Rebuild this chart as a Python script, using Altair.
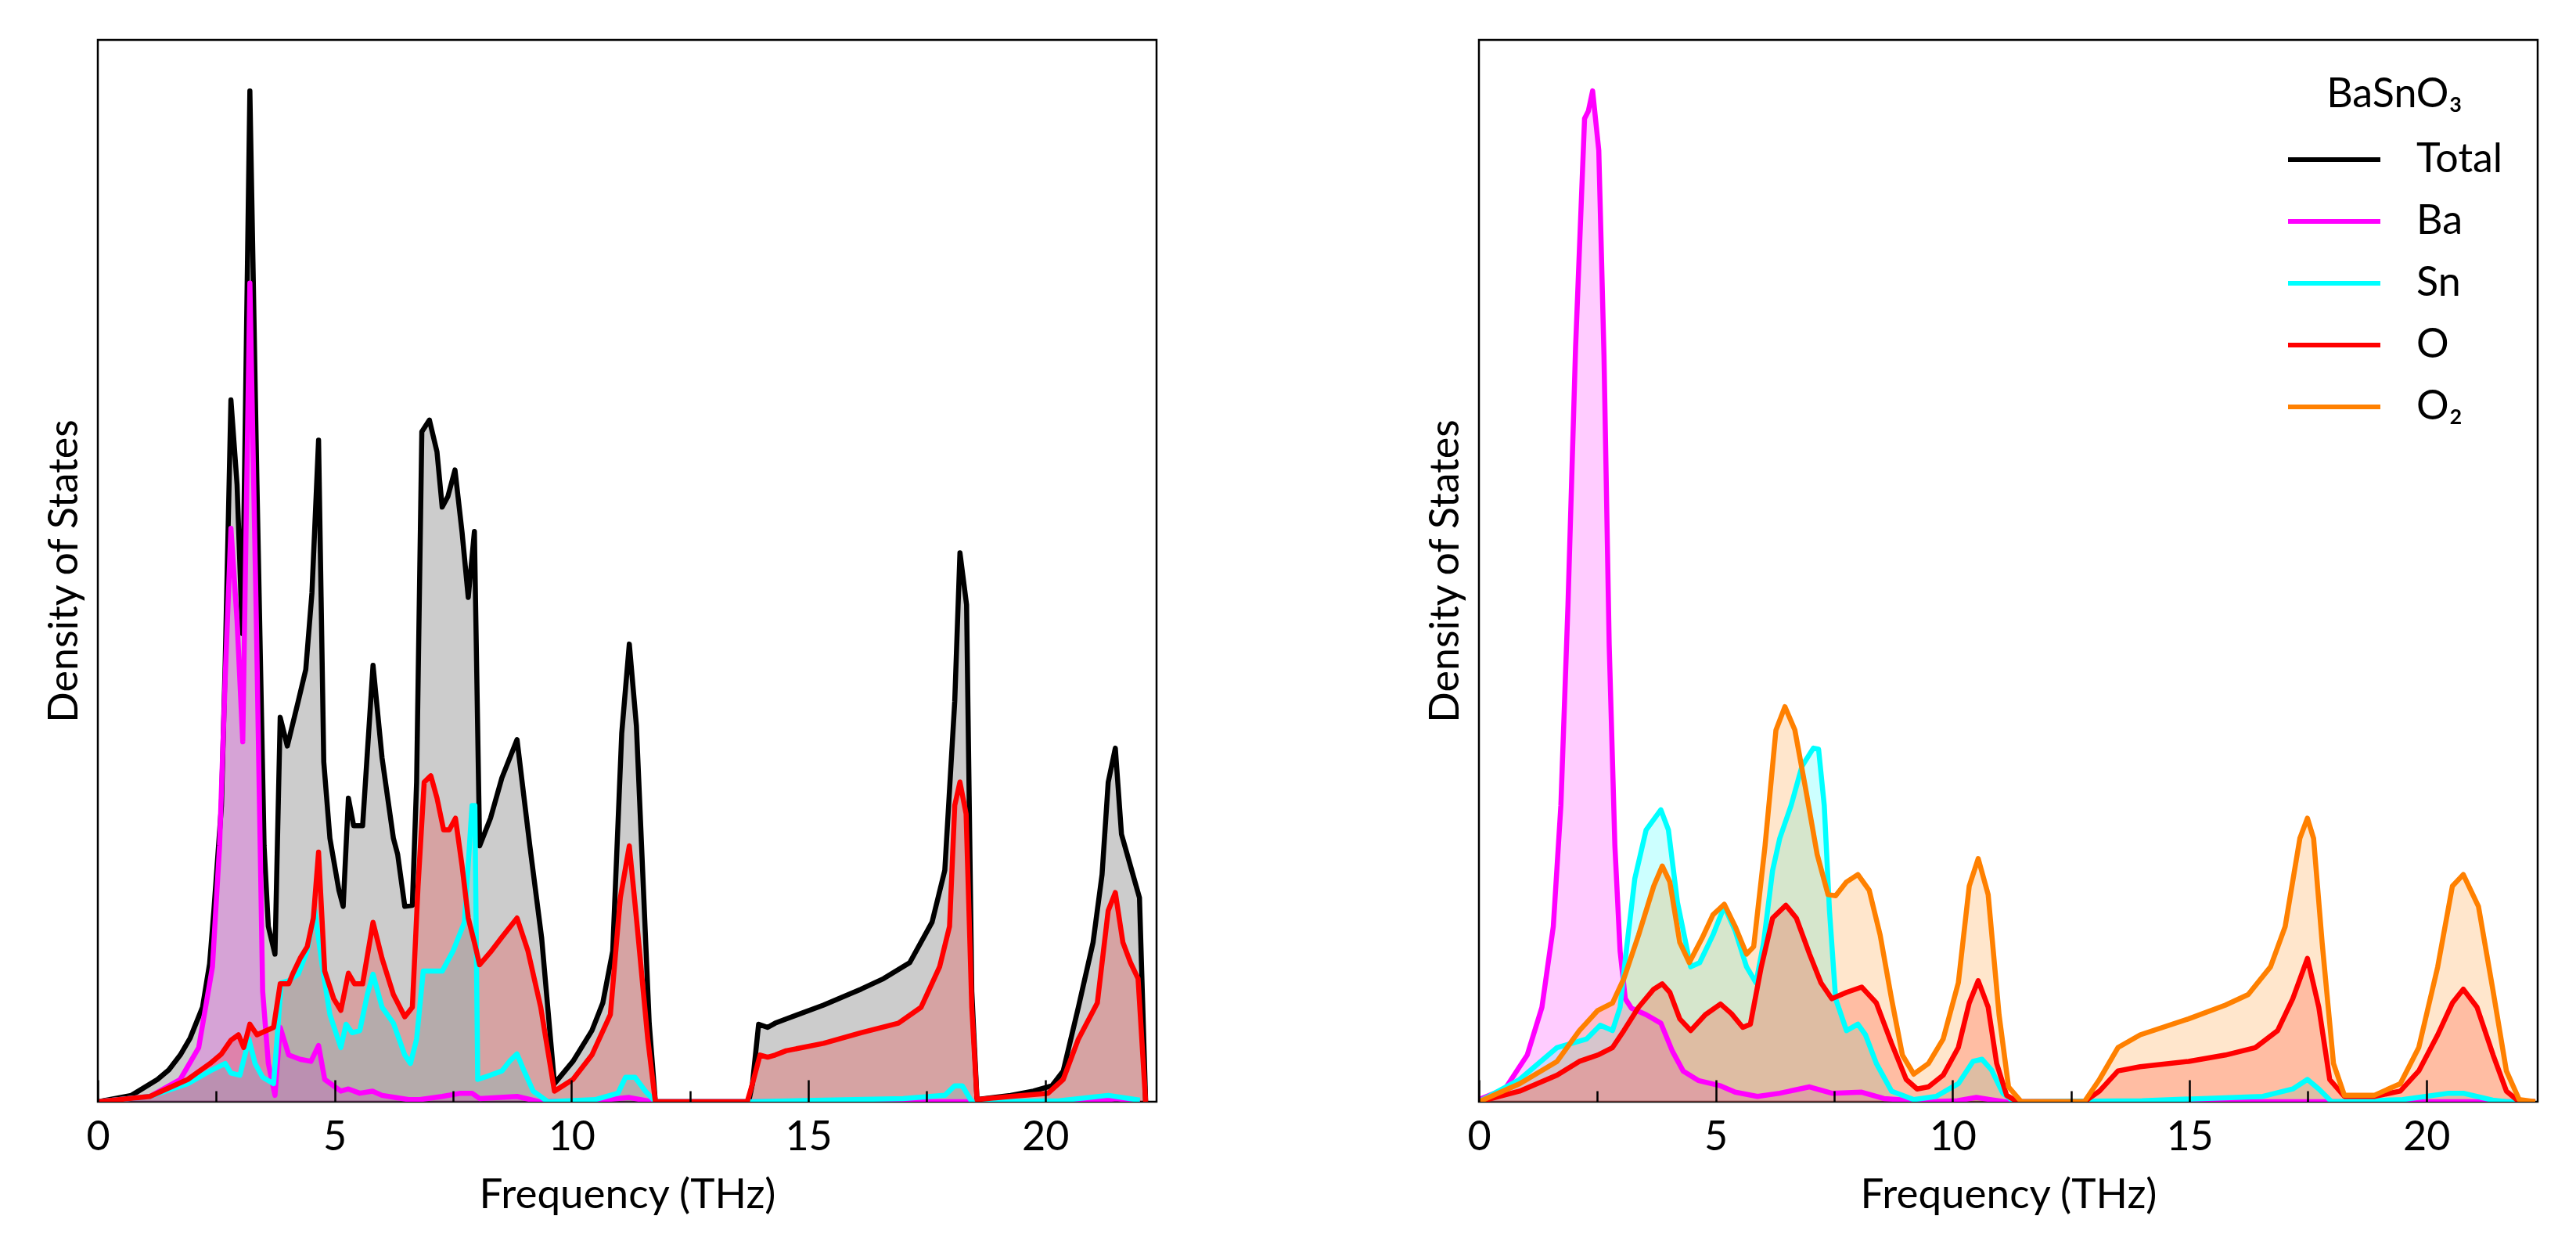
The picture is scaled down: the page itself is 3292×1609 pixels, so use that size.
import altair as alt
import pandas as pd

FONT = "Lato"
SERIES = ["Total", "Ba", "Sn", "O", "O₂"]
COLORS = ["#000000", "#ff00ff", "#00ffff", "#ff0000", "#ff8000"]
XMAX = 22.35
YMAX = 100.0
MAJOR_TICKS = [0, 5, 10, 15, 20]
MINOR_TICKS = [2.5, 7.5, 12.5, 17.5]

# ---------------- left panel ----------------
L_TOTAL_F = [0, 0.71, 1.26, 1.5, 1.74, 1.95, 2.21, 2.36, 2.45, 2.61, 2.69, 2.81, 2.94, 3.05, 3.21, 3.36, 3.51, 3.60,
             3.74, 3.85, 4.0, 4.23, 4.39, 4.52, 4.66, 4.77, 4.90, 5.09, 5.18, 5.29, 5.40, 5.59, 5.81, 6.0, 6.24,
             6.33, 6.48, 6.64, 6.73, 6.84, 7.0, 7.16, 7.27, 7.39, 7.54, 7.69, 7.82, 7.95, 8.06, 8.29, 8.53, 8.85,
             9.12, 9.37, 9.64, 10.03, 10.43, 10.66, 10.87, 11.06, 11.22, 11.37, 11.64, 11.77, 13.74, 13.82, 13.95,
             14.14, 14.30, 14.53, 15.32, 16.11, 16.59, 17.14, 17.61, 17.88, 18.09, 18.2, 18.34, 18.45, 18.56,
             19.27, 19.75, 20.14, 20.38, 20.70, 21.01, 21.2, 21.33, 21.48, 21.61, 21.80, 21.99, 22.12]
L_TOTAL_V = [0, 0.6, 2.1, 3.0, 4.4, 6.0, 8.9, 13.0, 18.0, 27.9, 41.5, 66.1, 58.1, 44.1, 95.2, 58.1, 24.1, 16.5,
             13.9, 36.2, 33.5, 37.7, 40.7, 47.9, 62.3, 32.0, 24.8, 19.9, 18.4, 28.6, 26.0, 26.0, 41.1, 32.4, 24.8,
             23.3, 18.4, 18.5, 30.1, 63.1, 64.2, 61.2, 56.0, 57.0, 59.5, 53.6, 47.5, 53.7, 24.1, 26.7, 30.5, 34.1,
             24.1, 15.4, 1.7, 3.8, 6.7, 9.3, 14.2, 34.7, 43.1, 35.4, 7.4, 0, 0, 1.7, 7.3,
             7.0, 7.4, 7.8, 9.1, 10.6, 11.6, 13.1, 16.9, 21.8, 37.7, 51.7, 46.8, 10.4, 0.2,
             0.6, 1.0, 1.5, 2.9, 8.9, 15.0, 21.4, 30.1, 33.3, 25.2, 22.2, 19.2, 0]

L_BA_F = [0, 1.1, 1.74, 2.13, 2.42, 2.57, 2.69, 2.81, 2.94, 3.06, 3.21, 3.35, 3.48, 3.60, 3.74, 3.85, 4.03,
          4.27, 4.5, 4.66, 4.79, 5.13, 5.29, 5.53, 5.80, 6.0, 6.56, 6.8, 7.27, 7.66, 7.9, 8.06, 8.85, 9.32,
          10.5, 11.22, 11.7, 21.0, 21.5, 22.0]
L_BA_V = [0, 0.5, 2.1, 5.1, 12.7, 24.1, 40.0, 54.0, 45.3, 33.9, 77.1, 44.5, 10.4, 3.6, 0.6, 7.0, 4.4,
          4.0, 3.8, 5.3, 2.1, 1.0, 1.2, 0.8, 1.0, 0.6, 0.2, 0.2, 0.5, 0.8, 0.8, 0.3, 0.5, 0,
          0.1, 0.4, 0, 0, 0.3, 0]

L_SN_F = [0, 1.1, 1.9, 2.37, 2.69, 2.81, 3.0, 3.19, 3.32, 3.48, 3.71, 3.79, 3.87, 4.03, 4.23, 4.42, 4.58,
          4.74, 4.90, 5.13, 5.24, 5.37, 5.53, 5.69, 5.81, 6.0, 6.24, 6.48, 6.6, 6.73, 6.87, 7.27, 7.50, 7.74,
          7.90, 7.96, 8.02, 8.29, 8.53, 8.69, 8.85, 9.0, 9.19, 9.5, 10.5, 10.98, 11.14, 11.34, 11.56, 11.77,
          13.8, 17.0, 17.88, 18.09, 18.25, 18.45, 20.3, 21.33, 22.0]
L_SN_V = [0, 0.5, 1.7, 2.9, 3.6, 2.7, 2.5, 5.9, 3.6, 2.3, 1.7, 6.3, 11.2, 11.4, 12.0, 14.2, 18.0,
          12.7, 8.2, 5.1, 7.3, 6.5, 6.7, 10.1, 12.0, 8.9, 7.4, 4.4, 3.6, 5.9, 12.3, 12.3, 14.2, 16.9,
          27.9, 27.9, 2.1, 2.5, 2.9, 3.8, 4.5, 2.9, 1.0, 0, 0.2, 0.8, 2.3, 2.3, 1.0, 0,
          0, 0.3, 0.6, 1.5, 1.5, 0, 0.1, 0.6, 0.15]

L_O_F = [0, 1.1, 1.9, 2.37, 2.61, 2.81, 2.97, 3.08, 3.21, 3.36, 3.71, 3.85, 4.03, 4.11, 4.27, 4.42, 4.55,
         4.66, 4.79, 4.98, 5.13, 5.29, 5.42, 5.59, 5.81, 6.0, 6.24, 6.48, 6.64, 6.76, 6.89, 7.03, 7.16, 7.30,
         7.42, 7.55, 7.69, 7.82, 7.95, 8.06, 8.29, 8.53, 8.85, 9.08, 9.35, 9.64, 10.03, 10.43, 10.82, 11.03,
         11.22, 11.37, 11.61, 11.77, 13.71, 13.82, 13.98, 14.14, 14.30, 14.53, 15.32, 16.11, 16.9, 17.38,
         17.77, 17.98, 18.09, 18.2, 18.33, 18.45, 18.56, 19.27, 20.06, 20.38, 20.70, 21.1, 21.33, 21.48,
         21.64, 21.8, 21.96, 22.12]
L_O_V = [0, 0.5, 2.1, 3.6, 4.5, 5.8, 6.3, 5.1, 7.3, 6.3, 7.0, 11.1, 11.1, 12.0, 13.5, 14.6, 17.3,
         23.5, 12.3, 9.7, 8.6, 12.1, 11.1, 11.1, 16.9, 13.5, 10.1, 8.0, 8.9, 20.3, 30.1, 30.7, 28.6, 25.6,
         25.6, 26.7, 22.2, 17.3, 15.0, 12.9, 14.1, 15.5, 17.3, 14.2, 8.9, 1.0, 2.1, 4.4, 8.2, 19.2,
         24.1, 17.3, 5.9, 0, 0, 1.7, 4.4, 4.2, 4.4, 4.8, 5.5, 6.5, 7.4, 8.9,
         12.7, 16.5, 27.9, 30.1, 27.1, 8.9, 0.2, 0.5, 0.8, 2.1, 5.9, 9.3, 18.0, 19.7,
         15.0, 13.1, 11.6, 0]

# ---------------- right panel ----------------
R_BA_F = [0, 0.55, 1.02, 1.33, 1.57, 1.73, 1.88, 2.04, 2.23, 2.31, 2.40, 2.53, 2.64, 2.75, 2.87, 2.98, 3.09,
          3.22, 3.53, 3.84, 4.08, 4.31, 4.63, 5.10, 5.41, 5.88, 6.35, 6.98, 7.45, 8.08, 8.55, 9.49, 10.1,
          10.5, 11.1, 22.3]
R_BA_V = [0.2, 1.2, 4.4, 8.9, 16.5, 27.9, 46.8, 71.0, 92.6, 93.3, 95.2, 89.6, 70.3, 43.0, 24.1, 14.2, 9.7,
          8.8, 8.2, 7.4, 4.8, 2.9, 2.0, 1.5, 0.9, 0.5, 0.8, 1.4, 0.8, 0.9, 0.3, 0, 0.1,
          0.4, 0, 0]

R_SN_F = [0, 0.86, 1.65, 2.27, 2.56, 2.82, 2.98, 3.11, 3.29, 3.53, 3.84, 4.0, 4.19, 4.47, 4.66, 4.94, 5.18,
          5.41, 5.65, 5.85, 6.01, 6.2, 6.35, 6.59, 6.82, 7.06, 7.17, 7.29, 7.4, 7.53, 7.76, 8.0, 8.16, 8.39,
          8.71, 9.18, 9.65, 10.12, 10.43, 10.62, 10.82, 11.06, 11.3, 14.0, 16.55, 17.18, 17.49, 17.73, 18.0,
          19.5, 20.47, 20.78, 21.4, 21.7, 22.3]
R_SN_V = [0, 2.1, 5.1, 5.9, 7.2, 6.7, 8.9, 14.2, 21.0, 25.6, 27.5, 25.6, 18.8, 12.7, 13.1, 15.7, 18.4,
          16.1, 12.7, 11.2, 15.0, 21.8, 24.8, 27.9, 31.6, 33.3, 33.2, 27.9, 18.0, 9.7, 6.7, 7.3, 6.3, 3.6,
          1.0, 0.2, 0.5, 1.7, 3.8, 4.0, 3.0, 0.8, 0, 0.1, 0.5, 1.2, 2.1, 1.2, 0,
          0.2, 0.8, 0.8, 0.15, 0, 0]

R_O_F = [0, 0.86, 1.65, 2.12, 2.51, 2.82, 3.06, 3.37, 3.69, 3.87, 4.03, 4.24, 4.47, 4.78, 5.10, 5.33, 5.57,
         5.73, 5.96, 6.2, 6.48, 6.7, 6.98, 7.22, 7.45, 7.76, 8.08, 8.39, 8.71, 9.02, 9.25, 9.49, 9.8, 10.12,
         10.35, 10.54, 10.75, 10.93, 11.14, 11.37, 12.78, 13.1, 13.49, 13.96, 14.98, 15.76, 16.39, 16.86,
         17.18, 17.49, 17.73, 17.96, 18.27, 18.9, 19.45, 19.84, 20.24, 20.55, 20.78, 21.07, 21.41, 21.69,
         21.96, 22.3]
R_O_V = [0, 1.0, 2.5, 3.8, 4.4, 5.1, 6.7, 8.9, 10.6, 11.1, 10.3, 7.8, 6.7, 8.2, 9.2, 8.3, 7.0,
         7.3, 12.7, 17.3, 18.5, 17.3, 13.9, 11.2, 9.7, 10.3, 10.8, 9.3, 5.5, 2.1, 1.2, 1.4, 2.5, 5.1,
         9.3, 11.4, 8.9, 3.6, 0.6, 0, 0, 1.0, 2.9, 3.3, 3.8, 4.4, 5.1, 6.7,
         9.7, 13.5, 8.9, 2.1, 0.5, 0.5, 1.0, 2.9, 6.3, 9.3, 10.6, 8.9, 4.4, 1.0,
         0, 0]

R_O2_F = [0, 0.86, 1.65, 2.12, 2.51, 2.82, 3.06, 3.37, 3.69, 3.87, 4.03, 4.24, 4.44, 4.71, 4.94, 5.18, 5.41,
          5.65, 5.8, 6.04, 6.27, 6.46, 6.67, 6.9, 7.14, 7.37, 7.53, 7.76, 8.0, 8.24, 8.47, 8.71, 8.94, 9.18,
          9.49, 9.8, 10.12, 10.35, 10.54, 10.75, 10.98, 11.18, 11.45, 12.78, 13.1, 13.49, 13.96, 14.98, 15.76,
          16.24, 16.71, 17.02, 17.33, 17.49, 17.62, 17.8, 18.04, 18.27, 18.9, 19.45, 19.84, 20.24, 20.55,
          20.78, 21.1, 21.41, 21.69, 21.96, 22.3]
R_O2_V = [0, 1.7, 3.8, 6.7, 8.6, 9.3, 11.6, 15.7, 20.3, 22.2, 20.7, 15.0, 13.1, 15.4, 17.6, 18.6, 16.5,
          13.9, 14.6, 24.1, 35.0, 37.2, 35.0, 29.4, 23.3, 19.5, 19.4, 20.7, 21.4, 19.9, 15.7, 9.7, 4.4, 2.6,
          3.6, 5.9, 11.2, 20.3, 22.9, 19.5, 8.2, 1.4, 0, 0, 2.1, 5.1, 6.3, 7.8, 9.1,
          10.1, 12.7, 16.5, 24.8, 26.7, 24.8, 15.0, 3.6, 0.6, 0.6, 1.7, 5.1, 12.7, 20.3,
          21.4, 18.4, 10.4, 2.9, 0.2, 0]

LEFT = [("Total", L_TOTAL_F, L_TOTAL_V), ("Ba", L_BA_F, L_BA_V), ("Sn", L_SN_F, L_SN_V), ("O", L_O_F, L_O_V)]
RIGHT = [("Ba", R_BA_F, R_BA_V), ("Sn", R_SN_F, R_SN_V), ("O", R_O_F, R_O_V), ("O₂", R_O2_F, R_O2_V)]

PW, PH = 1353, 1357
COLOR_OF = dict(zip(SERIES, COLORS))


def panel(series_list, show_legend):
    x_scale = alt.Scale(domain=[0, XMAX], nice=False, zero=False)
    y_scale = alt.Scale(domain=[0, YMAX], nice=False)
    color_scale = alt.Scale(domain=SERIES, range=COLORS)
    y_axis = alt.Axis(title="Density of States", labels=False, ticks=False, domain=False, grid=False,
                      titlePadding=16, titleFontSize=52)
    label_axis = alt.Axis(values=MAJOR_TICKS, ticks=False, domain=False, grid=False, orient="bottom",
                          labelFontSize=52, labelPadding=20, labelFlush=False,
                          title="Frequency (THz)", titleFontSize=53, titlePadding=22)
    major_axis = alt.Axis(values=MAJOR_TICKS, ticks=True, tickSize=28, tickWidth=2.5, tickColor="black",
                          offset=-28, labels=False, domain=False, grid=False, title=None, orient="bottom",
                          zindex=2)
    minor_axis = alt.Axis(values=MINOR_TICKS, ticks=True, tickSize=14, tickWidth=2.5, tickColor="black",
                          offset=-14, labels=False, domain=False, grid=False, title=None, orient="bottom",
                          zindex=2)
    if show_legend:
        legend = alt.Legend(title="BaSnO₃", orient="none", legendX=1031, legendY=45,
                            symbolType="stroke", symbolSize=118 * 118, symbolStrokeWidth=6,
                            clipHeight=52, labelFontSize=52, titleFontSize=52, labelOffset=43,
                            rowPadding=27, titleAnchor="middle", titleAlign="center", titlePadding=30,
                            padding=0, labelColor="black", titleColor="black", titleFontWeight="normal",
                            symbolOpacity=1, labelFont=FONT, titleFont=FONT)
    else:
        legend = None

    layers = []
    for i, (name, f, v) in enumerate(series_list):
        df = pd.DataFrame({"freq": f, "dos": v, "series": name})
        layers.append(
            alt.Chart(df).mark_area(fill=COLOR_OF[name], fillOpacity=0.2, stroke=None, clip=True,
                                    interpolate="linear").encode(
                x=alt.X("freq:Q", scale=x_scale, axis=label_axis if i == 0 else None),
                y=alt.Y("dos:Q", scale=y_scale, axis=y_axis, stack=None),
            )
        )
    for i, (name, f, v) in enumerate(series_list):
        df = pd.DataFrame({"freq": f, "dos": v, "series": name})
        ax = major_axis if i == 0 else (minor_axis if i == 1 else None)
        layers.append(
            alt.Chart(df).mark_line(strokeWidth=6.5, clip=True, strokeJoin="round").encode(
                x=alt.X("freq:Q", scale=x_scale, axis=ax),
                y=alt.Y("dos:Q", scale=y_scale, axis=y_axis),
                color=alt.Color("series:N", scale=color_scale, legend=legend),
            )
        )
    return alt.layer(*layers).resolve_axis(x="independent").properties(width=PW, height=PH)


left = panel(LEFT, False)
right = panel(RIGHT, True)

chart = (
    alt.hconcat(left, right, spacing=339)
    .resolve_scale(color="independent")
    .resolve_legend(color="independent")
    .properties(padding={"left": 46, "top": 41, "right": 5, "bottom": 5}, background="white")
    .configure_view(stroke="black", strokeWidth=2.5)
    .configure_axis(labelFont=FONT, titleFont=FONT, labelColor="black", titleColor="black",
                    titleFontWeight="normal")
)

chart.save("out.html", embed_options={"renderer": "svg", "actions": False})
